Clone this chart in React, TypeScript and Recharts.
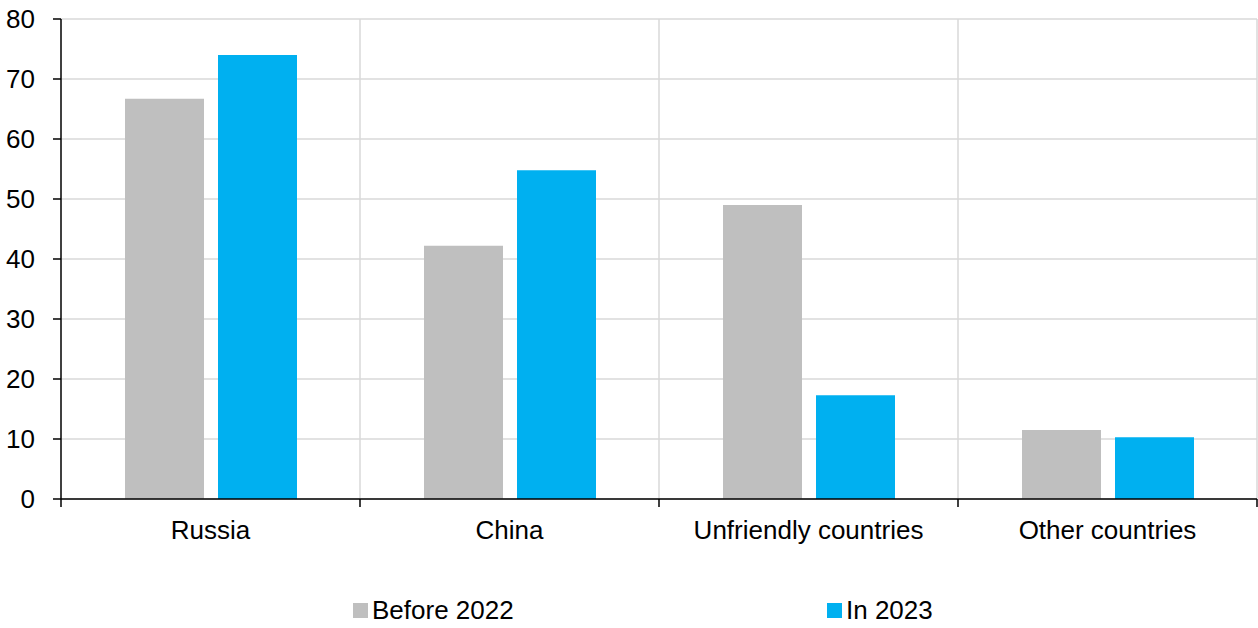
import React from 'react';
import { BarChart, Bar, XAxis, YAxis, CartesianGrid, Legend } from 'recharts';

const categories = ['Russia', 'China', 'Unfriendly countries', 'Other countries'];
const before2022 = [66.7, 42.2, 49.0, 11.5];
const in2023 = [74.0, 54.8, 17.3, 10.3];
const yTicks = [0, 10, 20, 30, 40, 50, 60, 70, 80];
const seriesNames = ['Before 2022', 'In 2023'];

const GRAY = '#bfbfbf';
const BLUE = '#00b0f0';
const FONT = '"Liberation Sans", Arial, sans-serif';

const data = categories.map((name, i) => ({
  name,
  before: before2022[i],
  in2023: in2023[i],
}));

// category label plus Excel-style tick marks on the band boundaries
const XTick = (props: any) => {
  const { x, y, payload, index, visibleTicksCount } = props;
  const half = payload && payload.offset ? payload.offset : 149.5;
  const last = index === (visibleTicksCount ?? categories.length) - 1;
  return (
    <g>
      <line x1={x - half} x2={x - half} y1={y} y2={y + 8} stroke="#000" strokeWidth={1.5} />
      {last && <line x1={x + half} x2={x + half} y1={y} y2={y + 8} stroke="#000" strokeWidth={1.5} />}
      <text x={x} y={y + 40} textAnchor="middle" fill="#000" fontSize={26} fontFamily={FONT}>
        {payload.value}
      </text>
    </g>
  );
};

const LegendContent = () => {
  const colors = [GRAY, BLUE];
  return (
    <div style={{ display: 'flex', paddingLeft: 353, paddingTop: 17, fontFamily: FONT, fontSize: 26, color: '#000' }}>
      {seriesNames.map((n, i) => (
        <div key={n} style={{ display: 'flex', alignItems: 'center', width: 474, flexShrink: 0 }}>
          <span style={{ display: 'inline-block', width: 15, height: 15, background: colors[i], marginRight: 4 }} />
          <span style={{ lineHeight: '30px', whiteSpace: 'nowrap' }}>{n}</span>
        </div>
      ))}
    </div>
  );
};

export default function App() {
  return (
    <div style={{ position: 'absolute', left: 0, top: 0, width: 1258, height: 628, background: '#fff', fontFamily: FONT }}>
      <BarChart
        width={1258}
        height={628}
        data={data}
        margin={{ top: 19, right: 1, left: 0, bottom: 0 }}
        barGap={14}
        barSize={79}
      >
        <CartesianGrid
          stroke="#d9d9d9"
          strokeWidth={1.5}
          vertical
          verticalCoordinatesGenerator={({ offset }: any) =>
            [1, 2, 3, 4].map((i) => offset.left + (offset.width * i) / categories.length)
          }
        />
        <XAxis
          dataKey="name"
          height={79}
          tickLine={false}
          tickSize={0}
          tickMargin={0}
          interval={0}
          axisLine={{ stroke: '#000', strokeWidth: 1.5 }}
          tick={<XTick />}
        />
        <YAxis
          width={61}
          domain={[0, 80]}
          ticks={yTicks}
          interval={0}
          tickSize={8}
          tickMargin={18}
          axisLine={{ stroke: '#000', strokeWidth: 1.5 }}
          tickLine={{ stroke: '#000', strokeWidth: 1.5 }}
          tick={{ fill: '#000', fontSize: 26, fontFamily: FONT }}
        />
        <Legend verticalAlign="bottom" height={50} content={<LegendContent />} />
        <Bar dataKey="before" name={seriesNames[0]} fill={GRAY} isAnimationActive={false} />
        <Bar dataKey="in2023" name={seriesNames[1]} fill={BLUE} isAnimationActive={false} />
      </BarChart>
    </div>
  );
}
